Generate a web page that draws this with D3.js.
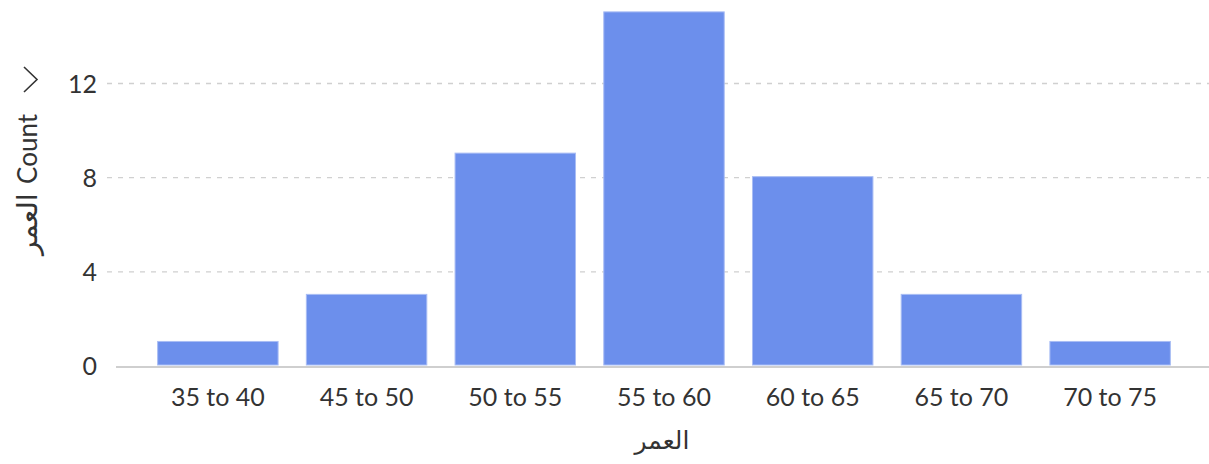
<!DOCTYPE html>
<html>
<head>
<meta charset="utf-8">
<script src="https://cdn.jsdelivr.net/npm/d3@7"></script>
<style>
  body { margin: 0; background: #fff; }
  svg { display: block; font-family: Lato, "DejaVu Sans", sans-serif; }
</style>
</head>
<body>
<svg id="chart"></svg>
<script>
// bins of age and how many fall in each
const categories = ['35 to 40', '45 to 50', '50 to 55', '55 to 60', '60 to 65', '65 to 70', '70 to 75'];
const counts = [1, 3, 9, 15, 8, 3, 1];
const yTicks = [0, 4, 8, 12];
const xTitle = 'العمر';
const yTitleParts = ['العمر', ' Count'];

const width = 1209, height = 464;
const svg = d3.select('#chart').attr('width', width).attr('height', height);

const x = d3.scaleBand()
  .domain(categories)
  .range([116, 1212])
  .paddingInner(0.19)
  .paddingOuter(0.28);

const y = d3.scaleLinear()
  .domain([0, 12])
  .range([366, 83.5]);

// grid
svg.append('g')
  .selectAll('line')
  .data(yTicks.filter(d => d > 0))
  .join('line')
  .attr('x1', 107).attr('x2', width)
  .attr('y1', d => y(d)).attr('y2', d => y(d))
  .attr('stroke', '#d0d0d0')
  .attr('stroke-width', 1.3)
  .attr('stroke-dasharray', '5,6');

// bars
svg.append('g')
  .selectAll('rect')
  .data(counts)
  .join('rect')
  .attr('x', (d, i) => x(categories[i]))
  .attr('width', x.bandwidth())
  .attr('y', d => y(d) - 1)
  .attr('height', d => y(0) - y(d))
  .attr('fill', '#6c8fec')
  .attr('stroke', '#a9bdf4')
  .attr('stroke-width', 1);

// baseline
svg.append('line')
  .attr('x1', 116).attr('x2', width)
  .attr('y1', 367).attr('y2', 367)
  .attr('stroke', '#cfcfcf')
  .attr('stroke-width', 2);

// y tick labels
svg.append('g')
  .selectAll('text')
  .data(yTicks)
  .join('text')
  .attr('x', 97)
  .attr('y', d => y(d))
  .attr('dy', '0.36em')
  .attr('text-anchor', 'end')
  .attr('font-size', 25)
  .attr('fill', '#333')
  .text(d => d);

// x tick labels
svg.append('g')
  .selectAll('text')
  .data(categories)
  .join('text')
  .attr('x', d => x(d) + x.bandwidth() / 2)
  .attr('y', 406)
  .attr('text-anchor', 'middle')
  .attr('font-size', 25)
  .attr('fill', '#333')
  .text(d => d);

// x title
svg.append('text')
  .attr('x', 662)
  .attr('y', 449)
  .attr('text-anchor', 'middle')
  .attr('font-size', 25)
  .attr('fill', '#333')
  .text(xTitle);

// y title, rotated, with a chevron after it
const yt = svg.append('g').attr('transform', 'translate(37,255) rotate(-90)');
const ytText = yt.append('text')
  .attr('x', 0)
  .attr('y', 0)
  .attr('text-anchor', 'start')
  .attr('direction', 'ltr')
  .attr('font-size', 26)
  .attr('fill', '#333');
ytText.append('tspan').attr('font-size', 28).text(yTitleParts[0]);
ytText.append('tspan').attr('dx', 3).text(yTitleParts[1]);
yt.append('path')
  .attr('d', 'M163,-13 L175.5,0 L188,-13')
  .attr('fill', 'none')
  .attr('stroke', '#333')
  .attr('stroke-width', 1.6);
</script>
</body>
</html>
